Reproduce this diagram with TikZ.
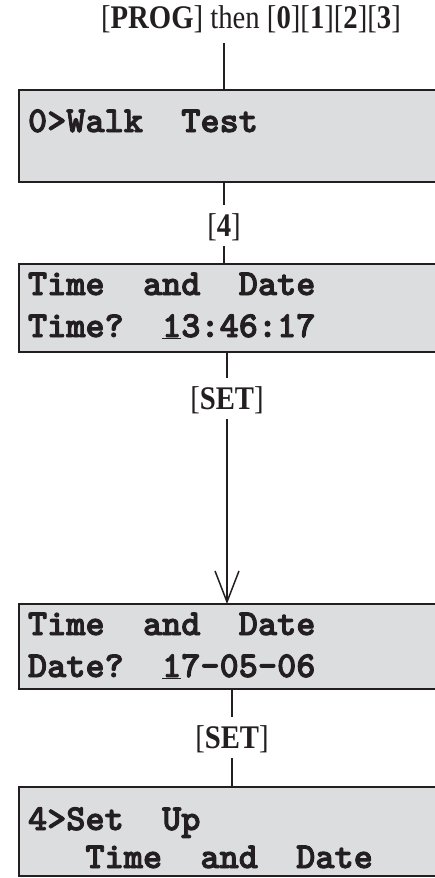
\documentclass[tikz,border=0pt]{standalone}
\usepackage{fontspec}
\setmainfont{Liberation Serif}
\newfontfamily\keyfont{Liberation Serif}[FakeStretch=0.87]
\newfontfamily\lcdfont{lmmonolt10-bold}[Extension=.otf,FakeBold=2.5]
\usetikzlibrary{arrows.meta}
\definecolor{lcdgray}{RGB}{220,221,223}
\definecolor{ink}{RGB}{35,31,32}

\begin{document}
\begin{tikzpicture}[x=1pt,y=1pt,line width=2pt,draw=ink,
	every node/.style={inner sep=0,outer sep=0,text=ink},
	lcd/.style={draw=ink,fill=lcdgray,line width=2.5pt,anchor=north west,minimum width=440pt,minimum height=#1},
	row/.style={anchor=base west,font=\fontsize{36.5}{40}\selectfont\lcdfont},
	key/.style={anchor=base,font=\fontsize{33}{36}\selectfont\keyfont,text height=24pt,text depth=3pt,outer sep=7pt}]
	\useasboundingbox (0,0) rectangle (435,-878);
	\node[anchor=base,font=\fontsize{33}{36}\selectfont\keyfont] (prog) at (251,-28) {[\textbf{PROG}] then [\textbf{0}][\textbf{1}][\textbf{2}][\textbf{3}]};
	\coordinate (in) at (224,-43);
	\node[lcd=92pt] (walk) at (19,-90) {};
	\node[row] (w1) at (28,-132) {0>Walk~~Test};
	\node[key] (k4) at (224,-236) {[\textbf{4}]};
	\node[lcd=88pt] (time) at (19,-264) {};
	\node[row] (t1) at (28,-295) {Time~~and~~Date};
	\node[row] (t2) at (28,-337) {Time?~~\underline{1}3:46:17};
	\node[key] (set1) at (227,-409) {[\textbf{SET}]};
	\node[lcd=85pt] (date) at (19,-604) {};
	\node[row] (d1) at (28,-635) {Time~~and~~Date};
	\node[row] (d2) at (28,-677) {Date?~~\underline{1}7-05-06};
	\node[key] (set2) at (232,-748) {[\textbf{SET}]};
	\node[lcd=89pt] (setup) at (19,-787) {};
	\node[row] (s1) at (28,-830) {4>Set~~Up};
	\node[row] (s2) at (28,-868) {~~~Time~~and~~Date};
	\draw (in) -- (in |- walk.north);
	\draw (walk.south -| k4) -- (k4);
	\draw (k4) -- (k4 |- time.north);
	\draw (time.south -| set1) -- (set1);
	\draw[-{Straight Barb[length=31pt,width=24pt,line width=1.5pt]}] (set1) -- (set1 |- date.north);
	\draw (date.south -| set2) -- (set2);
	\draw (set2) -- (set2 |- setup.north);
\end{tikzpicture}
\end{document}
